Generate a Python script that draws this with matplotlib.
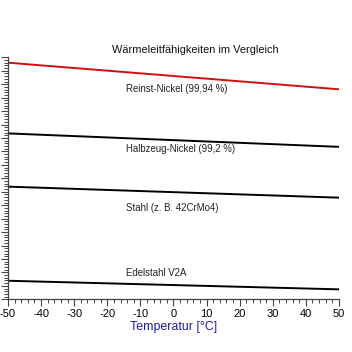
import numpy as np
import matplotlib.pyplot as plt
from matplotlib.ticker import MultipleLocator

plt.rcParams['font.family'] = ['Liberation Sans', 'DejaVu Sans']
plt.rcParams['axes.unicode_minus'] = False

# temperature range (deg C)
temp = [-50, 50]

# conductivity values (axis units, labels cropped)
reinst = [88.0, 78.1]
halbzeug = [61.7, 56.7]
stahl = [41.9, 37.8]
edelstahl = [6.9, 3.7]

names = ["Reinst-Nickel (99,94 %)", "Halbzeug-Nickel (99,2 %)",
         "Stahl (z. B. 42CrMo4)", "Edelstahl V2A"]
label_y = [78.2, 55.8, 33.8, 9.6]

fig = plt.figure(figsize=(3.52, 3.52), dpi=100)
ax = fig.add_axes([0.0227, 0.1497, 0.9403, 0.6875])

ax.plot(temp, reinst, color='#d01010', lw=1.4)
ax.plot(temp, halbzeug, color='k', lw=1.4)
ax.plot(temp, stahl, color='k', lw=1.4)
ax.plot(temp, edelstahl, color='k', lw=1.4)

for name, yy in zip(names, label_y):
    ax.text(-14.4, yy, name, fontsize=6.9, color='#222222', ha='left', va='center')

ax.set_xlim(-50, 50)
ax.set_ylim(0, 90)
ax.xaxis.set_major_locator(MultipleLocator(10))
ax.xaxis.set_minor_locator(MultipleLocator(2))
ax.yaxis.set_major_locator(MultipleLocator(5))
ax.yaxis.set_minor_locator(MultipleLocator(1))
ax.tick_params(which='major', length=5, width=0.8, color='#444444', labelsize=8, pad=2)
ax.tick_params(which='minor', length=3, width=0.7, color='#444444')
ax.tick_params(axis='y', labelleft=False)

for s in ['top', 'right']:
    ax.spines[s].set_visible(False)
for s in ['left', 'bottom']:
    ax.spines[s].set_color('#444444')
    ax.spines[s].set_linewidth(0.9)

ax.set_xlabel('Temperatur [°C]', fontsize=8.9, color='#1a1aa8', labelpad=1.5)
fig.text(195/352, 1 - 50/352, 'Wärmeleitfähigkeiten im Vergleich', fontsize=7.9,
         color='#111111', ha='center', va='center')

fig.savefig("out.png", dpi=100)
